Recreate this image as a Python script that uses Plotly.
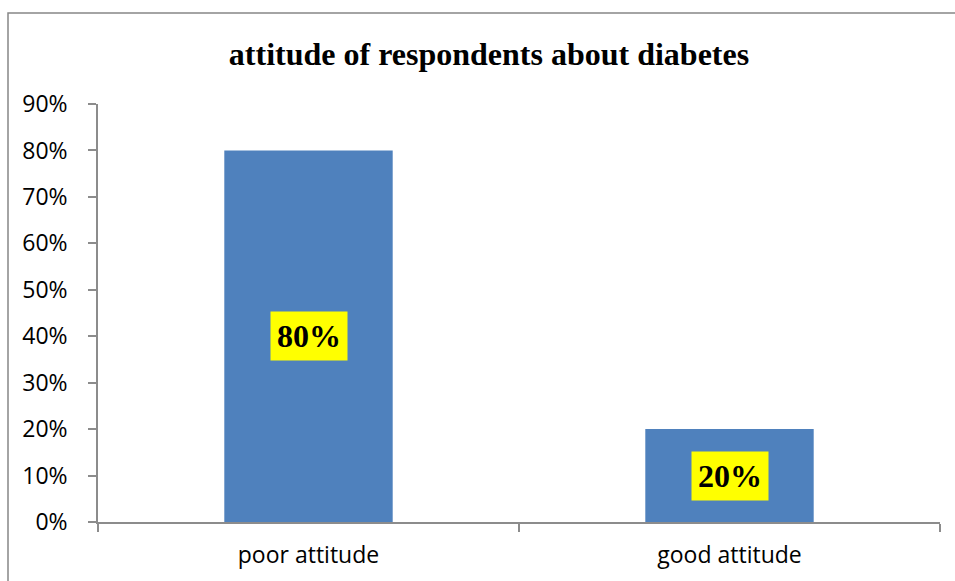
import plotly.graph_objects as go

categories = ["poor attitude", "good attitude"]
values = [0.80, 0.20]
label_texts = ["80%", "20%"]
title_text = "attitude of respondents about diabetes"

W, H = 955, 581
L, R, T, B = 98, 15, 104, 59
pw, ph = W - L - R, H - T - B

fig = go.Figure()
fig.add_trace(go.Bar(
    x=categories, y=values,
    marker=dict(color="#4F81BD", line=dict(width=0)),
    width=0.4, hoverinfo="skip",
))

for c, v, t in zip(categories, values, label_texts):
    fig.add_annotation(
        x=c, y=v / 2, xref="x", yref="y", text="<b>%s</b>" % t,
        showarrow=False, bgcolor="#FFFF00", borderpad=6,
        font=dict(family="Liberation Serif", size=32, color="black"),
    )

def px_x(px):
    return (px - L) / pw

def px_y(py):
    return (H - B - py) / ph

# outer chart border
fig.add_shape(type="rect", xref="paper", yref="paper",
              x0=px_x(8), x1=px_x(975), y0=px_y(600), y1=px_y(13),
              line=dict(color="#878787", width=1.5), layer="above")

fig.update_layout(
    width=W, height=H,
    margin=dict(l=L, r=R, t=T, b=B, pad=0),
    paper_bgcolor="white", plot_bgcolor="white",
    showlegend=False,
    title=dict(text="<b>%s</b>" % title_text, x=px_x(489), xref="paper",
               xanchor="center", y=1 - 54 / H, yanchor="middle",
               font=dict(family="Liberation Serif", size=32, color="black")),
    xaxis=dict(
        showline=True, linecolor="#8C8C8C", linewidth=1.5,
        ticks="outside", tickson="boundaries", ticklen=8, tickwidth=1.5,
        tickcolor="#8C8C8C", showgrid=False,
        tickfont=dict(family="Open Sans", size=23, color="black"),
        ticklabelstandoff=12,
    ),
    yaxis=dict(
        range=[0, 0.9], dtick=0.1, tickformat=".0%",
        showline=True, linecolor="#8C8C8C", linewidth=1.5,
        ticks="outside", ticklen=8, tickwidth=1.5, tickcolor="#8C8C8C",
        showgrid=False, zeroline=False,
        tickfont=dict(family="Open Sans", size=23, color="black"),
        ticklabelstandoff=16,
    ),
)

fig.write_html("out.html")
